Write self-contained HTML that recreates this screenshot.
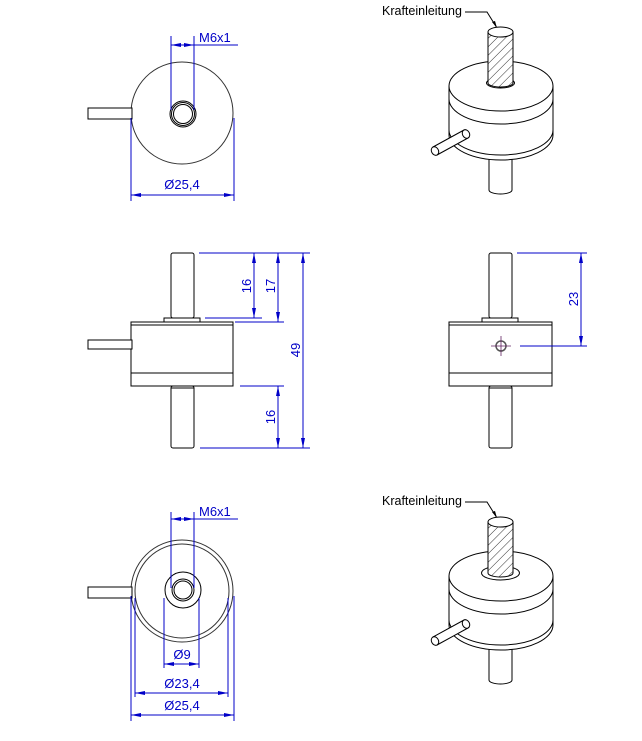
<!DOCTYPE html>
<html><head><meta charset="utf-8"><style>html,body{margin:0;padding:0;background:#fff}svg{display:block}</style></head>
<body>
<svg width="642" height="741" viewBox="0 0 642 741" xmlns="http://www.w3.org/2000/svg" font-family="Liberation Sans, sans-serif">
<defs>
<marker id="a" viewBox="0 0 10 4" refX="10" refY="2" markerWidth="10" markerHeight="4" orient="auto-start-reverse" markerUnits="userSpaceOnUse"><path d="M0,0 L10,2 L0,4 Z" fill="#0000c8"/></marker>
<pattern id="h" width="6" height="6" patternUnits="userSpaceOnUse" patternTransform="rotate(45)"><rect width="6" height="6" fill="#fff"/><line x1="0" y1="0" x2="0" y2="6" stroke="#333" stroke-width="1"/></pattern>
<g id="iso">
  <path d="M489,150 L489,190 A11.5,4 0 0 0 512,190 L512,150" fill="#fff" stroke="#000"/>
  <path d="M449,86 L449,135 A52,25 0 0 0 553,135 L553,86" fill="#fff" stroke="#000"/>
  <path d="M449,130 A52,25 0 0 0 553,130" fill="none" stroke="#000"/>
  <path d="M449,99 A52,25 0 0 0 553,99" fill="none" stroke="#000"/>
  <ellipse cx="501" cy="86" rx="52" ry="25" fill="#fff" stroke="#000"/>
  <path d="M433,147 L464,130 L468,138 L437,155 Z" fill="#fff" stroke="#000"/>
  <ellipse cx="435" cy="151" rx="3.5" ry="4.5" transform="rotate(-28 435 151)" fill="#fff" stroke="#000"/>
  <ellipse cx="466" cy="134" rx="3.5" ry="4.5" transform="rotate(-28 466 134)" fill="#fff" stroke="#000"/>
  <ellipse cx="500.5" cy="83" rx="14" ry="5" fill="#fff" stroke="#000"/>
  <text x="382" y="15" font-size="12.5" fill="#000">Krafteinleitung</text>
  <path d="M465,12 L487,12 L497,28" fill="none" stroke="#000"/>
  <path d="M497,28 L492,22 L495,21 Z" fill="#000"/>
</g>
<g id="shaft">
  <path d="M488,32 L488,83 A12.5,4 0 0 0 513,83 L513,32" fill="url(#h)" stroke="#000"/>
  <ellipse cx="500.5" cy="32" rx="12.5" ry="5" fill="#fff" stroke="#000"/>
</g>
</defs>

<g stroke="#000" fill="none">
<circle cx="182" cy="113" r="51" fill="#fff" stroke="#333"/>
<circle cx="183" cy="114" r="13"/><circle cx="183" cy="114" r="11.5"/><circle cx="183" cy="114" r="9.5"/>
<rect x="88" y="108" width="44" height="11" fill="#fff"/>

<rect x="171" y="253" width="23" height="65" rx="2" fill="#fff"/>
<rect x="164" y="318" width="36" height="4" fill="#fff"/>
<rect x="131" y="322" width="102" height="64" fill="#fff"/>
<line x1="131" y1="325" x2="233" y2="325"/>
<line x1="131" y1="373" x2="233" y2="373"/>
<rect x="171" y="386" width="23" height="62" rx="2" fill="#fff"/>
<line x1="171" y1="388" x2="194" y2="388"/>
<rect x="88" y="340" width="44" height="9" fill="#fff"/>

<rect x="489" y="253" width="23" height="65" rx="2" fill="#fff"/>
<rect x="482" y="318" width="36" height="4" fill="#fff"/>
<rect x="449" y="322" width="103" height="64" fill="#fff"/>
<line x1="449" y1="325" x2="552" y2="325"/>
<line x1="449" y1="373" x2="552" y2="373"/>
<rect x="489" y="386" width="23" height="62" rx="2" fill="#fff"/>
<line x1="489" y1="388" x2="512" y2="388"/>
<circle cx="501" cy="346" r="5" stroke="#555" stroke-width="1.5"/>
<g stroke="#602060" stroke-width="0.8"><line x1="491" y1="346" x2="511" y2="346"/><line x1="501" y1="336" x2="501" y2="356"/></g>

<circle cx="182" cy="591" r="51" fill="#fff" stroke="#333"/>
<circle cx="182" cy="591" r="47" stroke="#333"/>
<circle cx="183" cy="590" r="18"/><circle cx="183" cy="590" r="11"/><circle cx="183" cy="590" r="9"/>
<rect x="88" y="587" width="44" height="11" fill="#fff"/>
</g>

<use href="#iso"/>
<use href="#shaft"/>
<use href="#iso" transform="translate(0,490)"/>
<ellipse cx="500.5" cy="573" rx="19" ry="7" fill="#fff" stroke="#000"/>
<use href="#shaft" transform="translate(0,490)"/>

<g stroke="#0000c8" stroke-width="1" fill="none">
<line x1="171" y1="36" x2="171" y2="110"/><line x1="194" y1="36" x2="194" y2="110"/>
<line x1="171" y1="45" x2="183" y2="45" marker-start="url(#a)"/><line x1="183" y1="45" x2="194" y2="45" marker-end="url(#a)"/>
<line x1="194" y1="45" x2="238" y2="45"/>
<line x1="131" y1="118" x2="131" y2="201"/><line x1="234" y1="118" x2="234" y2="201"/>
<line x1="131" y1="195" x2="234" y2="195" marker-start="url(#a)" marker-end="url(#a)"/>
<line x1="199" y1="253" x2="310" y2="253"/>
<line x1="205" y1="318" x2="262" y2="318"/>
<line x1="235" y1="322" x2="284" y2="322"/>
<line x1="240" y1="386" x2="284" y2="386"/>
<line x1="200" y1="448" x2="310" y2="448"/>
<line x1="254" y1="253" x2="254" y2="318" marker-start="url(#a)" marker-end="url(#a)"/>
<line x1="278" y1="253" x2="278" y2="322" marker-start="url(#a)" marker-end="url(#a)"/>
<line x1="303" y1="253" x2="303" y2="448" marker-start="url(#a)" marker-end="url(#a)"/>
<line x1="278" y1="386" x2="278" y2="448" marker-start="url(#a)" marker-end="url(#a)"/>
<line x1="517" y1="253" x2="587" y2="253"/>
<line x1="520" y1="346" x2="587" y2="346"/>
<line x1="581" y1="253" x2="581" y2="346" marker-start="url(#a)" marker-end="url(#a)"/>
<line x1="171" y1="512" x2="171" y2="588"/><line x1="194" y1="512" x2="194" y2="588"/>
<line x1="171" y1="519" x2="183" y2="519" marker-start="url(#a)"/><line x1="183" y1="519" x2="194" y2="519" marker-end="url(#a)"/>
<line x1="194" y1="519" x2="238" y2="519"/>
<line x1="164" y1="598" x2="164" y2="668"/><line x1="199" y1="598" x2="199" y2="668"/>
<line x1="164" y1="664" x2="199" y2="664" marker-start="url(#a)" marker-end="url(#a)"/>
<line x1="135" y1="598" x2="135" y2="697"/><line x1="228" y1="598" x2="228" y2="697"/>
<line x1="135" y1="693" x2="228" y2="693" marker-start="url(#a)" marker-end="url(#a)"/>
<line x1="131" y1="596" x2="131" y2="721"/><line x1="234" y1="596" x2="234" y2="721"/>
<line x1="131" y1="715" x2="234" y2="715" marker-start="url(#a)" marker-end="url(#a)"/>
</g>
<g fill="#0000c8" font-size="13">
<text x="199" y="42">M6x1</text>
<text x="182" y="189" text-anchor="middle">Ø25,4</text>
<text x="199" y="516">M6x1</text>
<text x="182" y="659" text-anchor="middle">Ø9</text>
<text x="182" y="688" text-anchor="middle">Ø23,4</text>
<text x="182" y="710" text-anchor="middle">Ø25,4</text>
<text transform="translate(251,286) rotate(-90)" text-anchor="middle">16</text>
<text transform="translate(275,286) rotate(-90)" text-anchor="middle">17</text>
<text transform="translate(300,350) rotate(-90)" text-anchor="middle">49</text>
<text transform="translate(275,417) rotate(-90)" text-anchor="middle">16</text>
<text transform="translate(578,299) rotate(-90)" text-anchor="middle">23</text>
</g>
</svg>
</body></html>
